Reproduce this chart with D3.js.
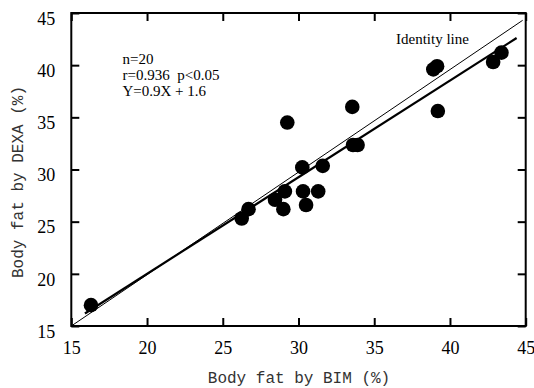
<!DOCTYPE html>
<html><head><meta charset="utf-8">
<script src="https://cdn.jsdelivr.net/npm/d3@7"></script>
<style>body{margin:0;background:#fff}svg{display:block}</style>
</head><body>
<script>
// Data
const bimValues  = [16.3, 26.25, 26.7, 28.45, 29.0, 29.1, 29.26, 30.25, 30.3, 30.5, 31.3, 31.6, 33.55, 33.6, 33.9, 38.9, 39.15, 39.2, 42.85, 43.4];
const dexaValues = [17.0, 25.3, 26.2, 27.1, 26.2, 27.9, 34.5, 30.2, 27.9, 26.6, 27.9, 30.35, 36.0, 32.35, 32.35, 39.6, 39.9, 35.6, 40.3, 41.2];
const xTicks = [15, 20, 25, 30, 35, 40, 45];
const yTicks = [15, 20, 25, 30, 35, 40, 45];
const identityLine = [[15, 15], [44.8, 44.3]];
const regressionLine = [[15.9, 16.2], [44.4, 42.6]];
const statLines = ["n=20", "r=0.936  p<0.05", "Y=0.9X + 1.6"];
const identityLabel = "Identity line";
const xTitle = "Body fat by BIM (%)";
const yTitle = "Body fat by DEXA (%)";

const W = 534, H = 388;
const L = 71.3, R = 525.7, T = 13, B = 326;
const svg = d3.select("body").append("svg").attr("width", W).attr("height", H);
const x = d3.scaleLinear().domain([15, 45]).range([L, R]);
const y = d3.scaleLinear().domain([15, 45]).range([B, T]);

const tickFont = "'Liberation Serif', serif";
const monoFont = "'Liberation Mono', monospace";

// lines
const line = d3.line().x(d => x(d[0])).y(d => y(d[1]));
svg.append("path").attr("d", line(identityLine)).attr("stroke", "#000").attr("stroke-width", 1).attr("fill", "none");
svg.append("path").attr("d", line(regressionLine)).attr("stroke", "#000").attr("stroke-width", 2.2).attr("fill", "none");

// points
svg.append("g").selectAll("circle").data(bimValues.map((v, i) => [v, dexaValues[i]]))
  .join("circle").attr("cx", d => x(d[0])).attr("cy", d => y(d[1])).attr("r", 7.3).attr("fill", "#000");

// axes with inward ticks
const gB = svg.append("g").attr("transform", `translate(0,${B})`)
  .call(d3.axisBottom(x).tickValues(xTicks).tickSizeInner(-8).tickSizeOuter(0).tickPadding(20));
const gT = svg.append("g").attr("transform", `translate(0,${T})`)
  .call(d3.axisTop(x).tickValues(xTicks).tickSizeInner(-8).tickSizeOuter(0).tickFormat(""));
const gL = svg.append("g").attr("transform", `translate(${L},0)`)
  .call(d3.axisLeft(y).tickValues(yTicks).tickSizeInner(-8).tickSizeOuter(0).tickPadding(16));
const gR = svg.append("g").attr("transform", `translate(${R},0)`)
  .call(d3.axisRight(y).tickValues(yTicks).tickSizeInner(-8).tickSizeOuter(0).tickFormat(""));
[gB, gT, gL, gR].forEach(g => {
  g.select(".domain").remove();
  g.selectAll(".tick line").attr("stroke", "#000").attr("stroke-width", 2);
  g.selectAll("text").attr("font-family", tickFont).attr("font-size", 18).attr("fill", "#000");
});
gL.selectAll("text").attr("dy", "0.62em");
gB.selectAll("text").attr("dy", "0.45em");

// frame
svg.append("rect").attr("x", L).attr("y", T).attr("width", R - L).attr("height", B - T)
  .attr("fill", "none").attr("stroke", "#000").attr("stroke-width", 2);

// annotations
svg.append("g").selectAll("text").data(statLines).join("text")
  .attr("x", 122.5).attr("y", (d, i) => 64 + i * 16)
  .attr("font-family", tickFont).attr("font-size", 15).attr("fill", "#000")
  .style("white-space", "pre").text(d => d);
svg.append("text").attr("x", 396).attr("y", 44.3).attr("font-family", tickFont)
  .attr("font-size", 15).text(identityLabel);

// titles
svg.append("text").attr("x", (L + R) / 2 + 0.5).attr("y", 383).attr("text-anchor", "middle")
  .attr("font-family", monoFont).attr("font-size", 16).attr("fill", "#333").text(xTitle);
svg.append("text").attr("transform", `translate(23,182) rotate(-90)`).attr("text-anchor", "middle")
  .attr("font-family", monoFont).attr("font-size", 16).attr("fill", "#333").text(yTitle);
</script>
</body></html>
